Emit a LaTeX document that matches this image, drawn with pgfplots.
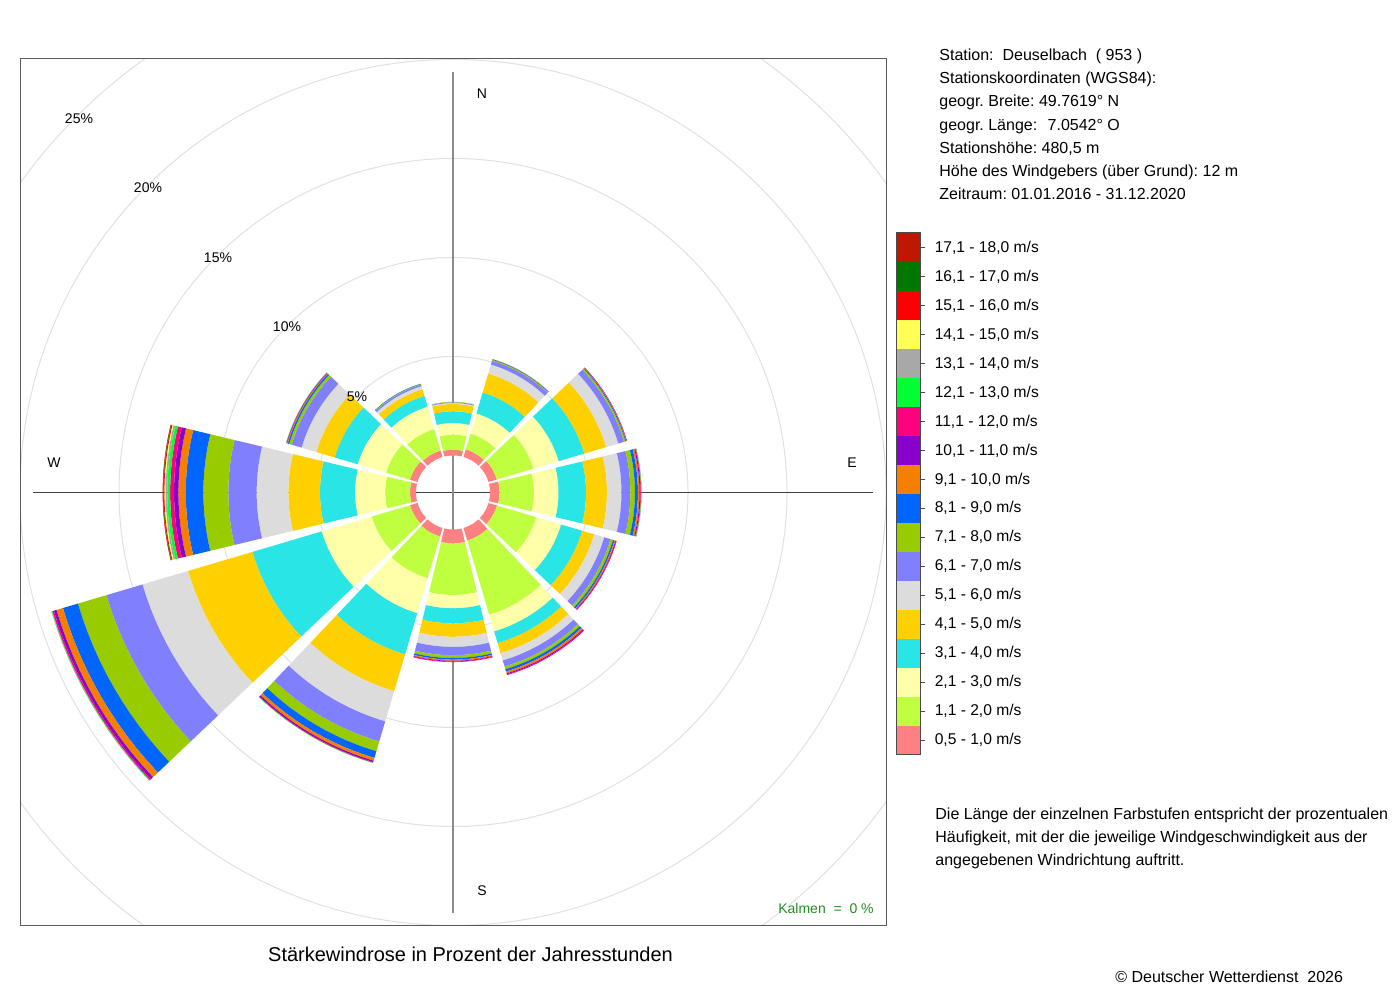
\documentclass[border=0pt]{standalone}
\usepackage{fontspec}
\setmainfont{Liberation Sans}
\usepackage{pgfplots}
\usepackage{pgfplotstable}
\pgfplotsset{compat=1.18}
\frenchspacing

\definecolor{c1}{RGB}{255,128,128}
\definecolor{c2}{RGB}{191,255,63}
\definecolor{c3}{RGB}{255,255,170}
\definecolor{c4}{RGB}{41,229,229}
\definecolor{c5}{RGB}{255,208,0}
\definecolor{c6}{RGB}{220,220,220}
\definecolor{c7}{RGB}{128,128,255}
\definecolor{c8}{RGB}{153,204,0}
\definecolor{c9}{RGB}{0,102,255}
\definecolor{c10}{RGB}{245,128,0}
\definecolor{c11}{RGB}{136,0,204}
\definecolor{c12}{RGB}{255,0,127}
\definecolor{c13}{RGB}{0,255,51}
\definecolor{c14}{RGB}{168,168,168}
\definecolor{c15}{RGB}{255,255,85}
\definecolor{c16}{RGB}{255,0,0}
\definecolor{c17}{RGB}{0,120,0}
\definecolor{c18}{RGB}{190,25,0}
\definecolor{kalmen}{RGB}{34,139,34}
\definecolor{gridc}{RGB}{224,224,224}

% percentage of hours per direction (compass degrees) and speed class
\pgfplotstableread{
dir c1 c2 c3 c4 c5 c6 c7 c8 c9 c10 c11 c12 c13 c14 c15 c16 c17 c18
0   0.29 0.76 0.59 0.59 0.37 0.05 0.04 0.02 0 0 0 0 0 0 0 0 0 0
30  0.40 0.83 1.06 1.11 1.00 0.47 0.20 0.05 0.03 0.01 0 0 0 0 0 0 0 0
60  0.44 1.93 1.33 1.35 1.15 0.64 0.30 0.08 0.04 0.02 0.01 0.01 0 0 0 0 0 0
90  0.48 1.74 1.24 1.39 1.06 0.73 0.45 0.23 0.15 0.08 0.05 0.03 0.02 0.01 0 0 0 0
120 0.45 2.07 1.31 1.11 0.63 0.53 0.33 0.13 0.08 0.055 0.035 0.025 0 0 0 0 0 0
150 0.66 3.91 0.88 0.62 0.53 0.38 0.32 0.14 0.12 0.10 0.05 0.04 0 0 0 0 0 0
180 0.70 2.61 0.67 0.76 0.68 0.51 0.42 0.14 0.08 0.06 0.035 0.03 0 0 0 0 0 0
210 0.45 2.20 1.84 2.17 1.94 1.59 1.06 0.51 0.35 0.15 0.07 0.035 0.015 0 0 0 0 0
240 0.40 2.02 2.63 3.65 3.39 2.40 1.90 1.50 0.79 0.34 0.14 0.08 0.03 0.02 0 0 0 0
270 0.30 1.26 1.52 1.77 1.60 1.60 1.43 1.26 0.89 0.37 0.22 0.20 0.14 0.09 0.06 0.04 0.025 0.025
300 0.40 1.26 1.49 1.22 0.96 0.78 0.52 0.13 0.08 0.04 0.02 0.02 0.01 0 0 0 0 0
330 0.34 1.14 1.17 0.57 0.35 0.16 0.08 0.03 0.02 0 0 0 0 0 0 0 0 0
}\rose

% annular sector: #1 centre angle (math deg), #2 inner radius, #3 outer radius, #4 colour
\newcommand\segment[4]{%
  \xdef\segpts{}%
  \foreach \k in {0,...,12}{%
    \pgfmathsetmacro\sega{#1-13.5+2.25*\k}%
    \pgfmathsetmacro\segx{#3*cos(\sega)}%
    \pgfmathsetmacro\segy{#3*sin(\sega)}%
    \xdef\segpts{\segpts(\segx,\segy) }%
  }%
  \foreach \k in {0,...,12}{%
    \pgfmathsetmacro\sega{#1+13.5-2.25*\k}%
    \pgfmathsetmacro\segx{#2*cos(\sega)}%
    \pgfmathsetmacro\segy{#2*sin(\sega)}%
    \xdef\segpts{\segpts(\segx,\segy) }%
  }%
  \edef\segcmd{\noexpand\addplot[draw=none,fill=#4,forget plot] coordinates {\segpts};}%
  \segcmd
}

\pgfplotstablegetrowsof{\rose}
\pgfmathtruncatemacro\nrow{\pgfplotsretval-1}

\begin{document}
\begin{tikzpicture}
\path[use as bounding box] (0,0) rectangle (700pt,500pt);

% ---------- wind rose ----------
\begin{axis}[
  at={(10pt,37.5pt)}, anchor=south west,
  x=0.5pt, y=0.5pt,
  xmin=-433, xmax=433, ymin=-432.5, ymax=433.5,
  xtick=\empty, ytick=\empty,
  axis on top,
  axis line style={draw=black!65, line width=0.5pt},
]
\draw[gridc, line width=0.5pt] (axis cs:0,0) circle[radius=68pt];
\draw[gridc, line width=0.5pt] (axis cs:0,0) circle[radius=117.5pt];
\draw[gridc, line width=0.5pt] (axis cs:0,0) circle[radius=167pt];
\draw[gridc, line width=0.5pt] (axis cs:0,0) circle[radius=216.5pt];
\draw[gridc, line width=0.5pt] (axis cs:0,0) circle[radius=266pt];
\draw[black!75, line width=0.5pt] (axis cs:-420,0) -- (axis cs:420,0);
\draw[black!45, line width=0.8pt] (axis cs:0,-420.5) -- (axis cs:0,420.5);

\foreach \ri in {0,...,\nrow}{%
  \pgfplotstablegetelem{\ri}{dir}\of\rose
  \pgfmathsetmacro\thdir{90-\pgfplotsretval}%
  \xdef\racc{0}%
  \foreach \cj in {1,...,18}{%
    \pgfplotstablegetelem{\ri}{c\cj}\of\rose
    \let\segval\pgfplotsretval
    \ifdim\segval pt>0pt
      \pgfmathsetmacro\rin{37+19.8*\racc}%
      \pgfmathsetmacro\newacc{\racc+\segval}%
      \xdef\racc{\newacc}%
      \pgfmathsetmacro\rout{37+19.8*\racc}%
      \segment{\thdir}{\rin}{\rout}{c\cj}%
    \fi
  }%
}
\end{axis}

% ---------- colour legend ----------
\begin{axis}[
  at={(448pt,122.65pt)}, anchor=south west,
  scale only axis, width=12.35pt, height=260.85pt,
  xmin=0, xmax=1, ymin=0, ymax=18,
  xtick=\empty,
  ytick={0.5,1.5,2.5,3.5,4.5,5.5,6.5,7.5,8.5,9.5,10.5,11.5,12.5,13.5,14.5,15.5,16.5,17.5},
  yticklabels={{0,5 - 1,0 m/s},{1,1 - 2,0 m/s},{2,1 - 3,0 m/s},{3,1 - 4,0 m/s},{4,1 - 5,0 m/s},{5,1 - 6,0 m/s},{6,1 - 7,0 m/s},{7,1 - 8,0 m/s},{8,1 - 9,0 m/s},{9,1 - 10,0 m/s},{10,1 - 11,0 m/s},{11,1 - 12,0 m/s},{12,1 - 13,0 m/s},{13,1 - 14,0 m/s},{14,1 - 15,0 m/s},{15,1 - 16,0 m/s},{16,1 - 17,0 m/s},{17,1 - 18,0 m/s}},
  ytick pos=right, yticklabel pos=right,
  tick align=outside, major tick length=2.2pt,
  tick style={black!70, line width=0.5pt},
  yticklabel style={font=\fontsize{7.8}{9}\selectfont, xshift=1.3pt},
  axis on top,
  axis line style={draw=black!70, line width=0.5pt},
]
\addplot[draw=none, fill=c1]  coordinates {(0,0) (1,0) (1,1) (0,1)};
\addplot[draw=none, fill=c2]  coordinates {(0,1) (1,1) (1,2) (0,2)};
\addplot[draw=none, fill=c3]  coordinates {(0,2) (1,2) (1,3) (0,3)};
\addplot[draw=none, fill=c4]  coordinates {(0,3) (1,3) (1,4) (0,4)};
\addplot[draw=none, fill=c5]  coordinates {(0,4) (1,4) (1,5) (0,5)};
\addplot[draw=none, fill=c6]  coordinates {(0,5) (1,5) (1,6) (0,6)};
\addplot[draw=none, fill=c7]  coordinates {(0,6) (1,6) (1,7) (0,7)};
\addplot[draw=none, fill=c8]  coordinates {(0,7) (1,7) (1,8) (0,8)};
\addplot[draw=none, fill=c9]  coordinates {(0,8) (1,8) (1,9) (0,9)};
\addplot[draw=none, fill=c10] coordinates {(0,9) (1,9) (1,10) (0,10)};
\addplot[draw=none, fill=c11] coordinates {(0,10) (1,10) (1,11) (0,11)};
\addplot[draw=none, fill=c12] coordinates {(0,11) (1,11) (1,12) (0,12)};
\addplot[draw=none, fill=c13] coordinates {(0,12) (1,12) (1,13) (0,13)};
\addplot[draw=none, fill=c14] coordinates {(0,13) (1,13) (1,14) (0,14)};
\addplot[draw=none, fill=c15] coordinates {(0,14) (1,14) (1,15) (0,15)};
\addplot[draw=none, fill=c16] coordinates {(0,15) (1,15) (1,16) (0,16)};
\addplot[draw=none, fill=c17] coordinates {(0,16) (1,16) (1,17) (0,17)};
\addplot[draw=none, fill=c18] coordinates {(0,17) (1,17) (1,18) (0,18)};
\end{axis}

% ---------- texts (pixel coordinates, y downwards) ----------
\begin{scope}[x=0.5pt, y=-0.5pt, shift={(0pt,500pt)}]
\tikzset{lab/.style={font=\fontsize{7}{8}\selectfont, inner sep=0}}
\node[lab] at (482,94) {N};
\node[lab] at (852,463) {E};
\node[lab] at (482,891) {S};
\node[lab] at (54,463) {W};
\node[lab] at (79,119) {25\%};
\node[lab] at (148,188) {20\%};
\node[lab] at (218,258) {15\%};
\node[lab] at (287,327) {10\%};
\node[lab] at (357,397) {5\%};
\node[lab, text=kalmen] at (826,908) {Kalmen\ \ =\ \ 0 \%};

\tikzset{info/.style={font=\fontsize{8}{9.6}\selectfont, inner sep=0, anchor=base west}}
\node[info] at (939,61) {Station:\ \ Deuselbach\ \ ( 953 )};
\node[info] at (939,84) {Stationskoordinaten (WGS84):};
\node[info] at (939,107) {geogr. Breite: 49.7619° N};
\node[info] at (939,131) {geogr. Länge:\hspace{5.2pt}7.0542° O};
\node[info] at (939,154) {Stationshöhe: 480,5 m};
\node[info] at (939,177) {Höhe des Windgebers (über Grund): 12 m};
\node[info] at (939,200) {Zeitraum: 01.01.2016 - 31.12.2020};

\node[info] at (935,820) {Die Länge der einzelnen Farbstufen entspricht der prozentualen};
\node[info] at (935,843) {Häufigkeit, mit der die jeweilige Windgeschwindigkeit aus der};
\node[info] at (935,866) {angegebenen Windrichtung auftritt.};

\node[info] at (1115,982) {© Deutscher Wetterdienst\ \ 2026};
\node[font=\fontsize{10}{12}\selectfont, inner sep=0, anchor=base] at (470.5,961.2) {Stärkewindrose in Prozent der Jahresstunden};
\end{scope}
\end{tikzpicture}
\end{document}
